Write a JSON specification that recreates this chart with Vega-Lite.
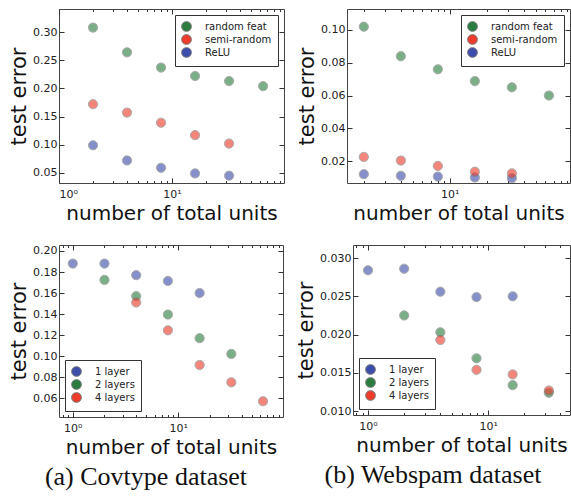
{
  "$schema": "https://vega.github.io/schema/vega-lite/v6.json",
  "padding": {"left": 8, "top": 8, "right": 2, "bottom": 2},
  "background": "white",
  "datasets": {
    "p1": [
      {"method": "random feat", "units": 2, "error": 0.308},
      {"method": "random feat", "units": 4, "error": 0.264},
      {"method": "random feat", "units": 8, "error": 0.237},
      {"method": "random feat", "units": 16, "error": 0.222},
      {"method": "random feat", "units": 32, "error": 0.213},
      {"method": "random feat", "units": 64, "error": 0.204},
      {"method": "ReLU", "units": 2, "error": 0.099},
      {"method": "ReLU", "units": 4, "error": 0.072},
      {"method": "ReLU", "units": 8, "error": 0.059},
      {"method": "ReLU", "units": 16, "error": 0.049},
      {"method": "ReLU", "units": 32, "error": 0.045},
      {"method": "semi-random", "units": 2, "error": 0.172},
      {"method": "semi-random", "units": 4, "error": 0.157},
      {"method": "semi-random", "units": 8, "error": 0.139},
      {"method": "semi-random", "units": 16, "error": 0.117},
      {"method": "semi-random", "units": 32, "error": 0.102}
    ],
    "p2": [
      {"method": "random feat", "units": 2, "error": 0.102},
      {"method": "random feat", "units": 4, "error": 0.084},
      {"method": "random feat", "units": 8, "error": 0.076},
      {"method": "random feat", "units": 16, "error": 0.0688},
      {"method": "random feat", "units": 32, "error": 0.065},
      {"method": "random feat", "units": 64, "error": 0.060},
      {"method": "ReLU", "units": 2, "error": 0.012},
      {"method": "ReLU", "units": 4, "error": 0.011},
      {"method": "ReLU", "units": 8, "error": 0.0105},
      {"method": "ReLU", "units": 16, "error": 0.0100},
      {"method": "ReLU", "units": 32, "error": 0.0095},
      {"method": "semi-random", "units": 2, "error": 0.0225},
      {"method": "semi-random", "units": 4, "error": 0.0203},
      {"method": "semi-random", "units": 8, "error": 0.0170},
      {"method": "semi-random", "units": 16, "error": 0.0135},
      {"method": "semi-random", "units": 32, "error": 0.0125}
    ],
    "p3": [
      {"method": "1 layer", "units": 1, "error": 0.188},
      {"method": "1 layer", "units": 2, "error": 0.188},
      {"method": "1 layer", "units": 4, "error": 0.177},
      {"method": "1 layer", "units": 8, "error": 0.1715},
      {"method": "1 layer", "units": 16, "error": 0.160},
      {"method": "2 layers", "units": 2, "error": 0.1725},
      {"method": "2 layers", "units": 4, "error": 0.157},
      {"method": "2 layers", "units": 8, "error": 0.1395},
      {"method": "2 layers", "units": 16, "error": 0.117},
      {"method": "2 layers", "units": 32, "error": 0.102},
      {"method": "4 layers", "units": 4, "error": 0.151},
      {"method": "4 layers", "units": 8, "error": 0.1245},
      {"method": "4 layers", "units": 16, "error": 0.0915},
      {"method": "4 layers", "units": 32, "error": 0.075},
      {"method": "4 layers", "units": 64, "error": 0.057}
    ],
    "p4": [
      {"method": "1 layer", "units": 1, "error": 0.0284},
      {"method": "1 layer", "units": 2, "error": 0.0286},
      {"method": "1 layer", "units": 4, "error": 0.0256},
      {"method": "1 layer", "units": 8, "error": 0.0249},
      {"method": "1 layer", "units": 16, "error": 0.0250},
      {"method": "2 layers", "units": 2, "error": 0.0225},
      {"method": "2 layers", "units": 4, "error": 0.0203},
      {"method": "2 layers", "units": 8, "error": 0.0169},
      {"method": "2 layers", "units": 16, "error": 0.0134},
      {"method": "2 layers", "units": 32, "error": 0.0124},
      {"method": "4 layers", "units": 4, "error": 0.0193},
      {"method": "4 layers", "units": 8, "error": 0.0154},
      {"method": "4 layers", "units": 16, "error": 0.0148},
      {"method": "4 layers", "units": 32, "error": 0.0127}
    ]
  },
  "vconcat": [
    {
      "hconcat": [
        {
          "width": 225, "height": 174,
          "data": {"name": "p1"},
          "layer": [
            {
              "mark": {"type": "point", "filled": true, "size": 85, "opacity": 0.62, "stroke": "#777", "strokeWidth": 1},
              "encoding": {
                "x": {"field": "units", "type": "quantitative", "scale": {"type": "log", "domain": [1, 98], "nice": false}, "axis": {"orient": "bottom", "values": [1, 10], "labelExpr": "datum.value < 5 ? '10⁰' : '10¹'", "title": "number of total units"}},
                "y": {"field": "error", "type": "quantitative", "scale": {"domain": [0.032, 0.341], "nice": false, "zero": false}, "axis": {"orient": "left", "values": [0.05, 0.10, 0.15, 0.20, 0.25, 0.30], "format": ".2f", "title": "test error"}},
                "color": {"field": "method", "type": "nominal", "scale": {"domain": ["random feat", "semi-random", "ReLU"], "range": ["#2a7d3f", "#ee3b2b", "#3c4dab"]}, "legend": {"orient": "top-right", "title": null}}
              }
            },
            {
              "mark": {"type": "point", "opacity": 0},
              "encoding": {
                "x": {"field": "units", "type": "quantitative", "scale": {"type": "log", "domain": [1, 98], "nice": false}, "axis": {"orient": "bottom", "values": [2, 3, 4, 5, 6, 7, 8, 9, 20, 30, 40, 50, 60, 70, 80, 90], "labels": false, "tickSize": -2.5, "title": null}},
                "y": {"field": "error", "type": "quantitative", "scale": {"domain": [0.032, 0.341], "nice": false, "zero": false}, "axis": {"orient": "right", "values": [0.05, 0.10, 0.15, 0.20, 0.25, 0.30], "labels": false, "title": null}}
              }
            },
            {
              "mark": {"type": "point", "opacity": 0},
              "encoding": {
                "x": {"field": "units", "type": "quantitative", "scale": {"type": "log", "domain": [1, 98], "nice": false}, "axis": {"orient": "top", "values": [1, 10], "labels": false, "title": null}},
                "y": {"field": "error", "type": "quantitative", "scale": {"domain": [0.032, 0.341], "nice": false, "zero": false}, "axis": null}
              }
            },
            {
              "mark": {"type": "point", "opacity": 0},
              "encoding": {
                "x": {"field": "units", "type": "quantitative", "scale": {"type": "log", "domain": [1, 98], "nice": false}, "axis": {"orient": "top", "values": [2, 3, 4, 5, 6, 7, 8, 9, 20, 30, 40, 50, 60, 70, 80, 90], "labels": false, "tickSize": -2.5, "title": null}},
                "y": {"field": "error", "type": "quantitative", "scale": {"domain": [0.032, 0.341], "nice": false, "zero": false}, "axis": null}
              }
            }
          ],
          "resolve": {"axis": {"x": "independent", "y": "independent"}}
        },
        {
          "width": 223, "height": 174,
          "data": {"name": "p2"},
          "layer": [
            {
              "mark": {"type": "point", "filled": true, "size": 85, "opacity": 0.62, "stroke": "#777", "strokeWidth": 1},
              "encoding": {
                "x": {"field": "units", "type": "quantitative", "scale": {"type": "log", "domain": [1.46, 95], "nice": false}, "axis": {"orient": "bottom", "values": [10], "labelExpr": "'10¹'", "title": "number of total units"}},
                "y": {"field": "error", "type": "quantitative", "scale": {"domain": [0.0066, 0.1128], "nice": false, "zero": false}, "axis": {"orient": "left", "values": [0.02, 0.04, 0.06, 0.08, 0.10], "format": ".2f", "title": "test error"}},
                "color": {"field": "method", "type": "nominal", "scale": {"domain": ["random feat", "semi-random", "ReLU"], "range": ["#2a7d3f", "#ee3b2b", "#3c4dab"]}, "legend": {"orient": "top-right", "title": null}}
              }
            },
            {
              "mark": {"type": "point", "opacity": 0},
              "encoding": {
                "x": {"field": "units", "type": "quantitative", "scale": {"type": "log", "domain": [1.46, 95], "nice": false}, "axis": {"orient": "bottom", "values": [2, 3, 4, 5, 6, 7, 8, 9, 20, 30, 40, 50, 60, 70, 80, 90], "labels": false, "tickSize": -2.5, "title": null}},
                "y": {"field": "error", "type": "quantitative", "scale": {"domain": [0.0066, 0.1128], "nice": false, "zero": false}, "axis": {"orient": "right", "values": [0.02, 0.04, 0.06, 0.08, 0.10], "labels": false, "title": null}}
              }
            },
            {
              "mark": {"type": "point", "opacity": 0},
              "encoding": {
                "x": {"field": "units", "type": "quantitative", "scale": {"type": "log", "domain": [1.46, 95], "nice": false}, "axis": {"orient": "top", "values": [10], "labels": false, "title": null}},
                "y": {"field": "error", "type": "quantitative", "scale": {"domain": [0.0066, 0.1128], "nice": false, "zero": false}, "axis": null}
              }
            },
            {
              "mark": {"type": "point", "opacity": 0},
              "encoding": {
                "x": {"field": "units", "type": "quantitative", "scale": {"type": "log", "domain": [1.46, 95], "nice": false}, "axis": {"orient": "top", "values": [2, 3, 4, 5, 6, 7, 8, 9, 20, 30, 40, 50, 60, 70, 80, 90], "labels": false, "tickSize": -2.5, "title": null}},
                "y": {"field": "error", "type": "quantitative", "scale": {"domain": [0.0066, 0.1128], "nice": false, "zero": false}, "axis": null}
              }
            }
          ],
          "resolve": {"axis": {"x": "independent", "y": "independent"}}
        }
      ],
      "spacing": 11,
      "resolve": {"scale": {"color": "independent"}, "legend": {"color": "independent"}}
    },
    {
      "hconcat": [
        {
          "width": 224, "height": 172,
          "data": {"name": "p3"},
          "title": {"text": "(a) Covtype dataset", "orient": "bottom", "anchor": "middle", "frame": "bounds", "font": "Liberation Serif", "fontSize": 26, "fontWeight": "normal", "color": "#111", "offset": 7},
          "layer": [
            {
              "mark": {"type": "point", "filled": true, "size": 85, "opacity": 0.62, "stroke": "#777", "strokeWidth": 1},
              "encoding": {
                "x": {"field": "units", "type": "quantitative", "scale": {"type": "log", "domain": [0.74, 99], "nice": false}, "axis": {"orient": "bottom", "values": [1, 10], "labelExpr": "datum.value < 5 ? '10⁰' : '10¹'", "title": "number of total units"}},
                "y": {"field": "error", "type": "quantitative", "scale": {"domain": [0.042, 0.2057], "nice": false, "zero": false}, "axis": {"orient": "left", "values": [0.06, 0.08, 0.10, 0.12, 0.14, 0.16, 0.18, 0.20], "format": ".2f", "title": "test error"}},
                "color": {"field": "method", "type": "nominal", "scale": {"domain": ["1 layer", "2 layers", "4 layers"], "range": ["#3c4dab", "#2a7d3f", "#ee3b2b"]}, "legend": {"orient": "bottom-left", "title": null}}
              }
            },
            {
              "mark": {"type": "point", "opacity": 0},
              "encoding": {
                "x": {"field": "units", "type": "quantitative", "scale": {"type": "log", "domain": [0.74, 99], "nice": false}, "axis": {"orient": "bottom", "values": [0.8, 0.9, 2, 3, 4, 5, 6, 7, 8, 9, 20, 30, 40, 50, 60, 70, 80, 90], "labels": false, "tickSize": -2.5, "title": null}},
                "y": {"field": "error", "type": "quantitative", "scale": {"domain": [0.042, 0.2057], "nice": false, "zero": false}, "axis": {"orient": "right", "values": [0.06, 0.08, 0.10, 0.12, 0.14, 0.16, 0.18, 0.20], "labels": false, "title": null}}
              }
            },
            {
              "mark": {"type": "point", "opacity": 0},
              "encoding": {
                "x": {"field": "units", "type": "quantitative", "scale": {"type": "log", "domain": [0.74, 99], "nice": false}, "axis": {"orient": "top", "values": [1, 10], "labels": false, "title": null}},
                "y": {"field": "error", "type": "quantitative", "scale": {"domain": [0.042, 0.2057], "nice": false, "zero": false}, "axis": null}
              }
            },
            {
              "mark": {"type": "point", "opacity": 0},
              "encoding": {
                "x": {"field": "units", "type": "quantitative", "scale": {"type": "log", "domain": [0.74, 99], "nice": false}, "axis": {"orient": "top", "values": [0.8, 0.9, 2, 3, 4, 5, 6, 7, 8, 9, 20, 30, 40, 50, 60, 70, 80, 90], "labels": false, "tickSize": -2.5, "title": null}},
                "y": {"field": "error", "type": "quantitative", "scale": {"domain": [0.042, 0.2057], "nice": false, "zero": false}, "axis": null}
              }
            }
          ],
          "resolve": {"axis": {"x": "independent", "y": "independent"}}
        },
        {
          "width": 217, "height": 170,
          "data": {"name": "p4"},
          "title": {"text": "(b) Webspam dataset", "orient": "bottom", "anchor": "middle", "frame": "bounds", "font": "Liberation Serif", "fontSize": 26, "fontWeight": "normal", "color": "#111", "offset": 7},
          "layer": [
            {
              "mark": {"type": "point", "filled": true, "size": 85, "opacity": 0.62, "stroke": "#777", "strokeWidth": 1},
              "encoding": {
                "x": {"field": "units", "type": "quantitative", "scale": {"type": "log", "domain": [0.75, 48], "nice": false}, "axis": {"orient": "bottom", "values": [1, 10], "labelExpr": "datum.value < 5 ? '10⁰' : '10¹'", "title": "number of total units"}},
                "y": {"field": "error", "type": "quantitative", "scale": {"domain": [0.0095, 0.0317], "nice": false, "zero": false}, "axis": {"orient": "left", "values": [0.010, 0.015, 0.020, 0.025, 0.030], "format": ".3f", "title": "test error"}},
                "color": {"field": "method", "type": "nominal", "scale": {"domain": ["1 layer", "2 layers", "4 layers"], "range": ["#3c4dab", "#2a7d3f", "#ee3b2b"]}, "legend": {"orient": "bottom-left", "title": null}}
              }
            },
            {
              "mark": {"type": "point", "opacity": 0},
              "encoding": {
                "x": {"field": "units", "type": "quantitative", "scale": {"type": "log", "domain": [0.75, 48], "nice": false}, "axis": {"orient": "bottom", "values": [0.8, 0.9, 2, 3, 4, 5, 6, 7, 8, 9, 20, 30, 40], "labels": false, "tickSize": -2.5, "title": null}},
                "y": {"field": "error", "type": "quantitative", "scale": {"domain": [0.0095, 0.0317], "nice": false, "zero": false}, "axis": {"orient": "right", "values": [0.010, 0.015, 0.020, 0.025, 0.030], "labels": false, "title": null}}
              }
            },
            {
              "mark": {"type": "point", "opacity": 0},
              "encoding": {
                "x": {"field": "units", "type": "quantitative", "scale": {"type": "log", "domain": [0.75, 48], "nice": false}, "axis": {"orient": "top", "values": [1, 10], "labels": false, "title": null}},
                "y": {"field": "error", "type": "quantitative", "scale": {"domain": [0.0095, 0.0317], "nice": false, "zero": false}, "axis": null}
              }
            },
            {
              "mark": {"type": "point", "opacity": 0},
              "encoding": {
                "x": {"field": "units", "type": "quantitative", "scale": {"type": "log", "domain": [0.75, 48], "nice": false}, "axis": {"orient": "top", "values": [0.8, 0.9, 2, 3, 4, 5, 6, 7, 8, 9, 20, 30, 40], "labels": false, "tickSize": -2.5, "title": null}},
                "y": {"field": "error", "type": "quantitative", "scale": {"domain": [0.0095, 0.0317], "nice": false, "zero": false}, "axis": null}
              }
            }
          ],
          "resolve": {"axis": {"x": "independent", "y": "independent"}}
        }
      ],
      "spacing": 11,
      "resolve": {"scale": {"color": "independent"}, "legend": {"color": "independent"}}
    }
  ],
  "spacing": 20,
  "resolve": {"scale": {"color": "independent"}, "legend": {"color": "independent"}},
  "config": {
    "font": "DejaVu Sans",
    "view": {"stroke": "#444", "strokeWidth": 1},
    "axis": {
      "grid": false,
      "domain": false,
      "tickColor": "#333",
      "tickSize": -5,
      "tickWidth": 1,
      "labelFont": "DejaVu Sans",
      "labelFontSize": 11,
      "labelColor": "#222",
      "titleFont": "DejaVu Sans",
      "titleFontWeight": "normal",
      "titleColor": "#111"
    },
    "axisX": {"labelPadding": 10, "titleFontSize": 20, "titlePadding": 4},
    "axisY": {"labelPadding": 7, "titleFontSize": 21, "titlePadding": 3},
    "legend": {
      "padding": 6,
      "offset": 6,
      "strokeColor": "#333",
      "fillColor": "white",
      "cornerRadius": 0,
      "labelFont": "DejaVu Sans",
      "labelFontSize": 10,
      "labelColor": "#222",
      "symbolSize": 95,
      "symbolOpacity": 1,
      "symbolStrokeColor": "#777",
      "symbolStrokeWidth": 1,
      "symbolType": "circle",
      "rowPadding": -2,
      "labelOffset": 13
    }
  }
}
